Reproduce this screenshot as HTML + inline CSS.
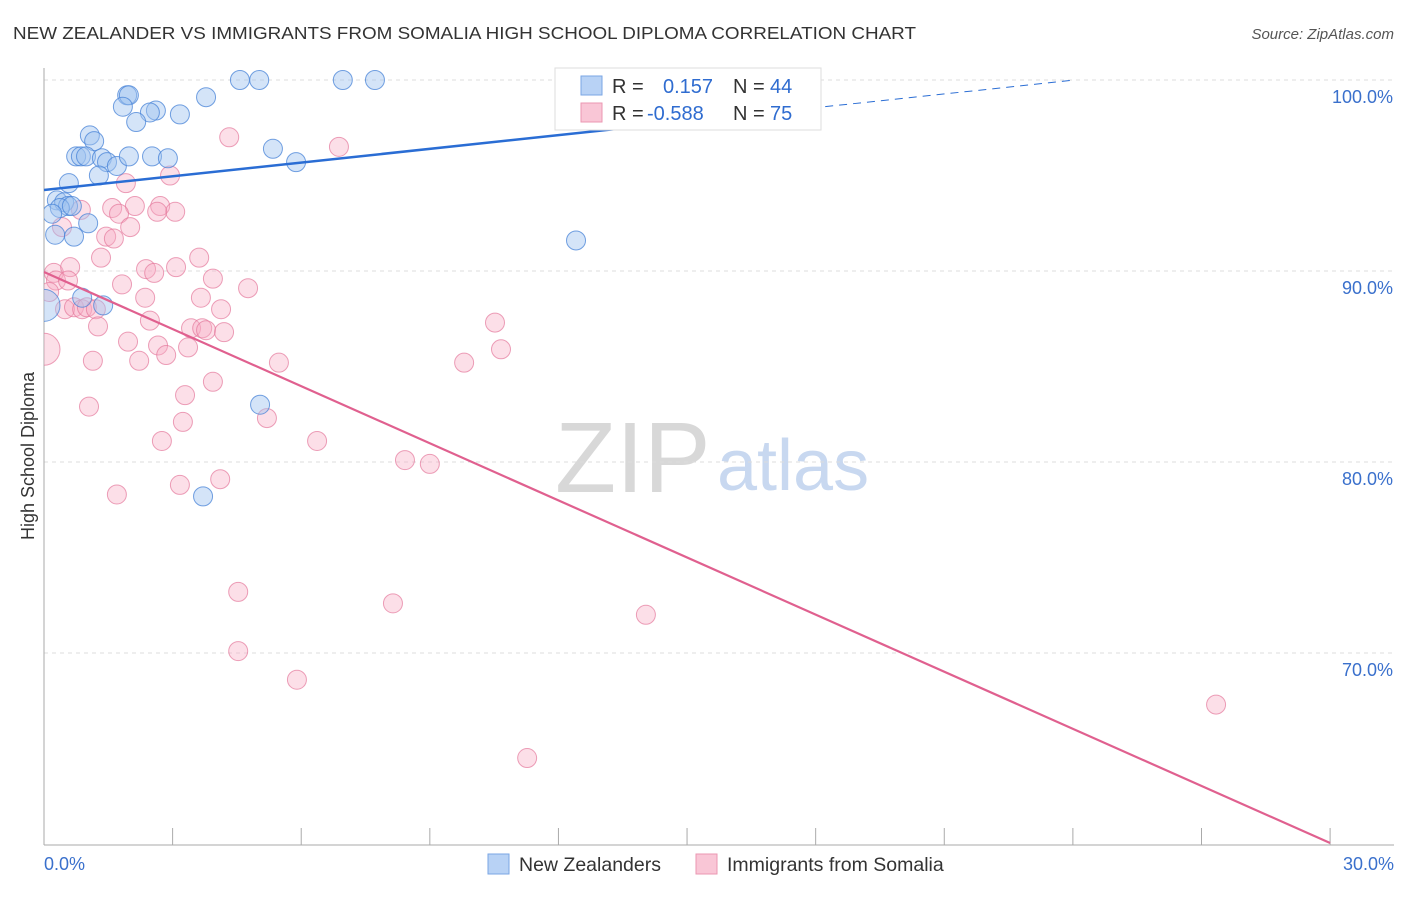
<!DOCTYPE html>
<html><head><meta charset="utf-8"><style>
body{margin:0;background:#fff;font-family:"Liberation Sans",sans-serif;}
svg text{font-family:"Liberation Sans",sans-serif;}
</style></head><body>
<svg id="chart" width="1406" height="892" xmlns="http://www.w3.org/2000/svg">
<defs><clipPath id="plotclip"><rect x="44" y="60" width="1360" height="785"/></clipPath></defs>
<text x="13" y="39" font-size="17.5" fill="#333" textLength="903" lengthAdjust="spacingAndGlyphs">NEW ZEALANDER VS IMMIGRANTS FROM SOMALIA HIGH SCHOOL DIPLOMA CORRELATION CHART</text>
<text x="1394" y="39" font-size="15" fill="#555" font-style="italic" text-anchor="end">Source: ZipAtlas.com</text>
<text transform="translate(34,456) rotate(-90)" font-size="18" fill="#333" text-anchor="middle">High School Diploma</text>
<g>
<text x="555" y="492" font-size="100" fill="#d8d8d8" font-family="Liberation Serif,serif">ZIP</text>
<text x="717" y="490" font-size="72" fill="#c8d8f0">atlas</text>
</g>
<g id="grid"></g><g id="axes"></g><g id="pts" clip-path="url(#plotclip)"></g><g id="lines"></g>
<g>
<rect x="555" y="68" width="266" height="62" fill="#fff" stroke="#ddd"/>
<rect x="581" y="76" width="21" height="19" fill="#b8d2f5" stroke="#7aa6e4"/>
<rect x="581" y="103" width="21" height="19" fill="#f9c6d6" stroke="#eb97b2"/>
<text x="612" y="93" font-size="20" fill="#333">R = </text><text x="663" y="93" font-size="20" fill="#2f6cd0">0.157</text>
<text x="733" y="93" font-size="20" fill="#333">N = </text><text x="770" y="93" font-size="20" fill="#2f6cd0">44</text>
<text x="612" y="120" font-size="20" fill="#333">R = </text><text x="647" y="120" font-size="20" fill="#2f6cd0">-0.588</text>
<text x="733" y="120" font-size="20" fill="#333">N = </text><text x="770" y="120" font-size="20" fill="#2f6cd0">75</text>
</g>
<g>
<rect x="488" y="854" width="21" height="20" fill="#b8d2f5" stroke="#7aa6e4"/>
<text x="519" y="871" font-size="19.5" fill="#333">New Zealanders</text>
<rect x="696" y="854" width="21" height="20" fill="#f9c6d6" stroke="#eb97b2"/>
<text x="727" y="871" font-size="19.5" fill="#333">Immigrants from Somalia</text>
</g>
</svg>
<script>
const blueX=[4.57,5.02,6.97,7.72,1.94,1.98,3.78,1.84,2.61,2.47,3.17,2.15,1.07,1.17,5.34,0.75,0.86,0.98,1.35,1.47,1.70,1.98,2.52,2.89,5.88,1.28,0.58,0.30,0.47,0.56,0.37,0.65,0.19,1.03,0.26,0.70,12.41,0.89,1.38,0,5.04,3.71,12.46];
const blueY=[100,100,100,100,99.2,99.2,99.1,98.6,98.4,98.3,98.2,97.8,97.1,96.8,96.4,96.0,96.0,96.0,95.9,95.7,95.5,96.0,96.0,95.9,95.7,95.0,94.6,93.7,93.6,93.4,93.3,93.4,93.0,92.5,91.9,91.8,91.6,88.6,88.2,88.2,83.0,78.2,98.0];
const blueBig=[39];
const pinkX=[4.32,6.88,2.94,1.91,1.59,2.12,2.71,3.06,0.86,1.75,2.64,0.42,2.01,1.45,1.63,1.33,3.62,2.38,3.08,2.57,3.94,0.23,0.28,0.61,0.56,0.12,1.82,4.76,2.36,3.66,4.13,0.49,0.70,0.89,1.00,1.21,2.47,3.43,3.69,3.78,4.20,1.26,1.96,2.66,2.85,3.36,2.22,1.14,0,5.48,10.52,10.66,9.80,3.94,3.29,1.05,5.20,3.24,2.75,6.37,8.42,9.00,4.11,3.17,1.70,4.53,8.14,14.04,4.53,5.90,27.34,11.27];
const pinkY=[97.0,96.5,95.0,94.6,93.3,93.4,93.4,93.1,93.2,93.0,93.1,92.3,92.3,91.8,91.7,90.7,90.7,90.1,90.2,89.9,89.6,89.9,89.5,90.2,89.5,88.9,89.3,89.1,88.6,88.6,88.0,88.0,88.1,88.0,88.1,88.0,87.4,87.0,87.0,86.9,86.8,87.1,86.3,86.1,85.6,86.0,85.3,85.3,85.9,85.2,87.3,85.9,85.2,84.2,83.5,82.9,82.3,82.1,81.1,81.1,80.1,79.9,79.1,78.8,78.3,73.2,72.6,72.0,70.1,68.6,67.3,64.5];
const pinkBig=[48];
const yTicks=[100,90,80,70];
const xTickVals=[0,3,6,9,12,15,18,21,24,27,30];
const blueTrend=[94.24,100.0]; // at x=0 and x=24.05
const pinkTrend=[89.95,60.05]; // at x=0 and x=30
const NS="http://www.w3.org/2000/svg";
const X=v=>44+v*42.87, Y=v=>80+(100-v)*19.1;
function mk(tag,attrs,parent){const e=document.createElementNS(NS,tag);for(const k in attrs)e.setAttribute(k,attrs[k]);parent.appendChild(e);return e;}
const grid=document.getElementById('grid'),axes=document.getElementById('axes'),pts=document.getElementById('pts'),lines=document.getElementById('lines');
yTicks.forEach(t=>{
 const l=mk('line',{x1:44,x2:1394,y1:Y(t),y2:Y(t),stroke:'#ddd','stroke-dasharray':'4,4'},grid);
 
 
 const tx=mk('text',{x:1393,y:Y(t)+23,'font-size':18,fill:'#3a70cc','text-anchor':'end'},axes);
 tx.textContent=t.toFixed(1)+'%';
 
 
});
const ax=mk('line',{x1:44,x2:44,y1:68,y2:845,stroke:'#aaa'},axes);


const bx=mk('line',{x1:44,x2:1394,y1:845,y2:845,stroke:'#aaa'},axes);


xTickVals.forEach(t=>{const l=mk('line',{x1:X(t),x2:X(t),y1:828,y2:845,stroke:'#aaa'},axes);
 
 });
[[0,'start',44],[30,'end',1394]].forEach(([v,a,px])=>{const t=mk('text',{x:px,y:870,'font-size':18,fill:'#3a70cc','text-anchor':a},axes);t.textContent=v.toFixed(1)+'%';
 
 });
function dots(xs,ys,big,fill,stroke,name){xs.forEach((v,i)=>{const c=mk('circle',{cx:X(v),cy:Y(ys[i]),r:big.includes(i)?16:9.5,fill:fill,stroke:stroke,'stroke-width':1},pts);
 
 });}
dots(pinkX,pinkY,pinkBig,'rgba(246,170,195,0.38)','rgba(228,120,155,0.7)','somalia-point');
dots(blueX,blueY,blueBig,'rgba(160,196,240,0.45)','rgba(70,130,215,0.75)','new-zealander-point');
const bs=(blueTrend[1]-blueTrend[0])/24.05;
const l1=mk('line',{x1:X(0),y1:Y(blueTrend[0]),x2:X(15.3),y2:Y(blueTrend[0]+bs*15.3),stroke:'#2a6dd4','stroke-width':2.5},lines);


const l2=mk('line',{x1:X(15.3),y1:Y(blueTrend[0]+bs*15.3),x2:X(24.05),y2:Y(blueTrend[1]),stroke:'#2a6dd4','stroke-width':1,'stroke-dasharray':'8,6'},lines);


const l3=mk('line',{x1:X(0),y1:Y(pinkTrend[0]),x2:X(30),y2:Y(pinkTrend[1]),stroke:'#e0608f','stroke-width':2.2},lines);


</script>
</body></html>
